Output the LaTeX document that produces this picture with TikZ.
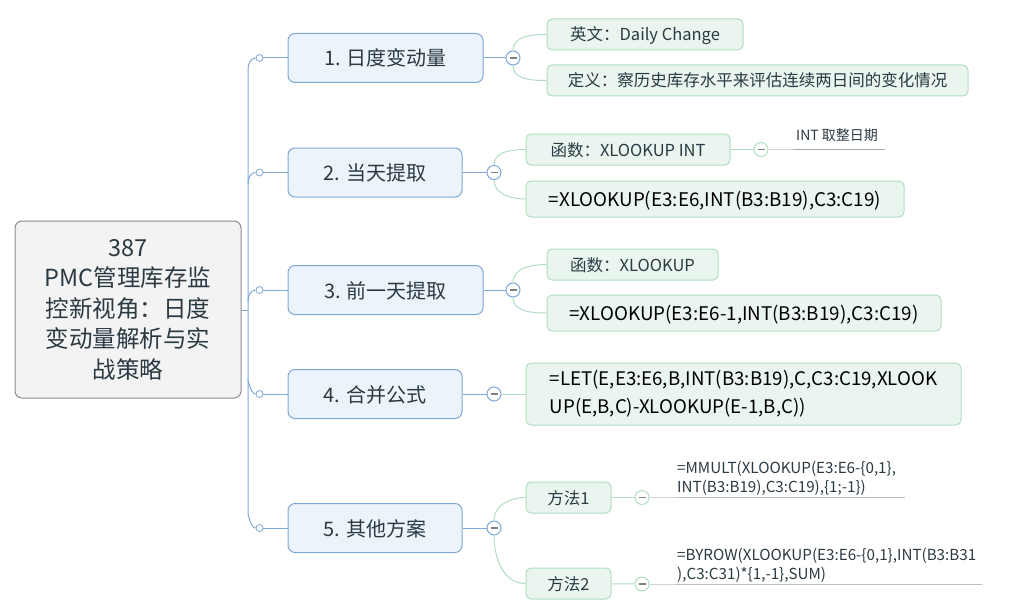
\documentclass[tikz,border=0pt]{standalone}
\usepackage{fontspec}
\setmainfont{Noto Sans CJK SC}
\usetikzlibrary{positioning}
\definecolor{rootfill}{HTML}{F3F3F3}
\definecolor{rootline}{HTML}{8C8C8C}
\definecolor{topicfill}{HTML}{EDF3FB}
\definecolor{topicline}{HTML}{7FA8D6}
\definecolor{subfill}{HTML}{EBF5F0}
\definecolor{subline}{HTML}{B0DDBF}
\definecolor{inktext}{HTML}{2B3A42}
\newcommand{\foldbar}{\textcolor{gray}{\rule{7pt}{1.6pt}}}
\tikzset{
	rootbox/.style={draw=rootline, fill=rootfill, rounded corners=7pt, line width=1pt, text=inktext, font=\fontsize{23.5}{30.5}\selectfont, align=center},
	topicbox/.style={draw=topicline, fill=topicfill, rounded corners=7pt, line width=1pt, text=inktext, font=\fontsize{20}{22}\selectfont, minimum height=49pt, text height=18pt, text depth=2pt},
	subbox/.style={draw=subline, fill=subfill, rounded corners=5pt, line width=1pt, text=inktext, font=\fontsize{16.5}{20}\selectfont, minimum height=31pt, text height=15pt, text depth=2pt},
	formulabox/.style={subbox, text=black, font=\fontsize{18.8}{28}\selectfont, minimum height=36pt, text height=17pt, text depth=2pt},
	blueline/.style={draw=topicline, line width=1pt},
	greenline/.style={draw=subline, line width=1pt},
	faintline/.style={draw=gray!35, line width=1pt},
	noteline/.style={draw=gray!70, line width=1pt},
	foldmark/.style={draw=topicline, fill=white, circle, inner sep=0pt, minimum size=14pt, line width=1pt},
	greenfold/.style={foldmark, draw=subline},
	joint/.style={draw=topicline, fill=white, circle, inner sep=0pt, minimum size=7pt, line width=0.8pt},
	plainnote/.style={inner sep=0pt, text=inktext, font=\fontsize{15.2}{19}\selectfont, align=left, anchor=north west},
}
\begin{document}
\begin{tikzpicture}[x=1pt,y=-1pt]
	\useasboundingbox (0,0) rectangle (1024,607);

	\node [rootbox, minimum width=226pt, minimum height=177pt] (root) at (128,309.5) {387\\PMC管理库存监\\控新视角：日度\\变动量解析与实\\战策略};

	\node [topicbox, minimum width=195pt] (t1) at (385.5,58) {1. 日度变动量};
	\node [topicbox, minimum width=174pt] (t2) at (375,172.5) {2. 当天提取};
	\node [topicbox, minimum width=195pt] (t3) at (385.5,290) {3. 前一天提取};
	\node [topicbox, minimum width=174pt] (t4) at (375,394) {4. 合并公式};
	\node [topicbox, minimum width=174pt] (t5) at (375,528) {5. 其他方案};

	\coordinate (trunk) at (248,310);
	\node [joint] (j1) at (259.5,58) {};
	\node [joint] (j2) at (259.5,172.5) {};
	\node [joint] (j3) at (259.5,290) {};
	\node [joint] (j4) at (259.5,394) {};
	\node [joint] (j5) at (259.5,528) {};

	\node [foldmark] (f1) at (513,58) {\foldbar};
	\node [foldmark] (f2) at (494,172.5) {\foldbar};
	\node [foldmark] (f3) at (513,290) {\foldbar};
	\node [foldmark] (f4) at (494,394) {\foldbar};
	\node [foldmark] (f5) at (494,528) {\foldbar};

	\node [subbox, minimum width=196pt] (s1a) at (645,34.5) {英文：Daily Change};
	\node [subbox, minimum width=421pt] (s1b) at (757.5,80.5) {定义：察历史库存水平来评估连续两日间的变化情况};
	\node [subbox, minimum width=204pt] (s2a) at (628,149.5) {函数：XLOOKUP INT};
	\node [formulabox, minimum width=378pt] (s2b) at (715,199) {=XLOOKUP(E3:E6,INT(B3:B19),C3:C19)};
	\node [subbox, minimum width=171pt] (s3a) at (632.5,264.5) {函数：XLOOKUP};
	\node [formulabox, minimum width=394pt] (s3b) at (744,313) {=XLOOKUP(E3:E6-1,INT(B3:B19),C3:C19)};
	\node [subbox, text=black, font=\fontsize{18.7}{28}\selectfont, minimum width=435pt, minimum height=62pt, text height=, text depth=, align=left] (s4) at (743.5,394) {=LET(E,E3:E6,B,INT(B3:B19),C,C3:C19,XLOOK\\UP(E,B,C)-XLOOKUP(E-1,B,C))};
	\node [subbox, minimum width=85pt] (s5a) at (568.5,497.5) {方法1};
	\node [subbox, minimum width=85pt] (s5b) at (568.5,583.5) {方法2};

	\node [greenfold] (g2) at (761,149.5) {\foldbar};
	\node [greenfold] (g5a) at (642,497.5) {\foldbar};
	\node [greenfold] (g5b) at (642,584) {\foldbar};

	\node [plainnote, font=\fontsize{14}{19}\selectfont] (n2) at (796,129) {INT 取整日期};
	\node [plainnote] (n5a) at (677,461) {=MMULT(XLOOKUP(E3:E6-\{0,1\},\\INT(B3:B19),C3:C19),\{1;-1\})};
	\node [plainnote] (n5b) at (677,548) {=BYROW(XLOOKUP(E3:E6-\{0,1\},INT(B3:B31\\),C3:C31)*\{1,-1\},SUM)};

	\coordinate (b2) at (793,149.5);
	\coordinate (b5a) at (677,497.5);
	\coordinate (b5b) at (677,584);
	\coordinate (e2) at (885,149.5);
	\coordinate (e5a) at (905,497.5);
	\coordinate (e5b) at (982,584);

	\draw [blueline] (root.east |- trunk) to (trunk);
	\draw [blueline] (j1) to[out=180, in=90] (248,70) to (248,516) to[out=90, in=180] (j5);
	\draw [blueline] (248,184) to[out=90, in=180] (j2);
	\draw [blueline] (248,302) to[out=90, in=180] (j3);
	\draw [blueline] (248,382) to[out=90, in=180] (j4);

	\draw [blueline] (j1) to (t1);
	\draw [blueline] (j2) to (t2);
	\draw [blueline] (j3) to (t3);
	\draw [blueline] (j4) to (t4);
	\draw [blueline] (j5) to (t5);

	\draw [blueline] (t1) to (f1);
	\draw [blueline] (t2) to (f2);
	\draw [blueline] (t3) to (f3);
	\draw [blueline] (t4) to (f4);
	\draw [blueline] (t5) to (f5);

	\draw [greenline] (f1) to[out=90, in=180] (s1a);
	\draw [greenline] (f1) to[out=-90, in=180] (s1b);
	\draw [greenline] (f2) to[out=90, in=180] (s2a);
	\draw [greenline] (f2) to[out=-90, in=180] (s2b);
	\draw [greenline] (f3) to[out=90, in=180] (s3a);
	\draw [greenline] (f3) to[out=-90, in=180] (s3b);
	\draw [greenline] (f4) to (s4);
	\draw [greenline] (f5) to[out=90, in=180] (s5a);
	\draw [greenline] (f5) to[out=-90, in=180] (s5b);

	\draw [greenline] (s2a) to (g2);
	\draw [greenline] (s5a) to (g5a);
	\draw [greenline] (s5b) to (g5b);

	\draw [faintline] (g2) to (b2);
	\draw [faintline] (g5a) to (b5a);
	\draw [faintline] (g5b) to (b5b);
	\draw [noteline] (b2) to (e2);
	\draw [noteline, draw=gray!50] (b5a) to (e5a);
	\draw [noteline, draw=gray!50] (b5b) to (e5b);
\end{tikzpicture}
\end{document}
